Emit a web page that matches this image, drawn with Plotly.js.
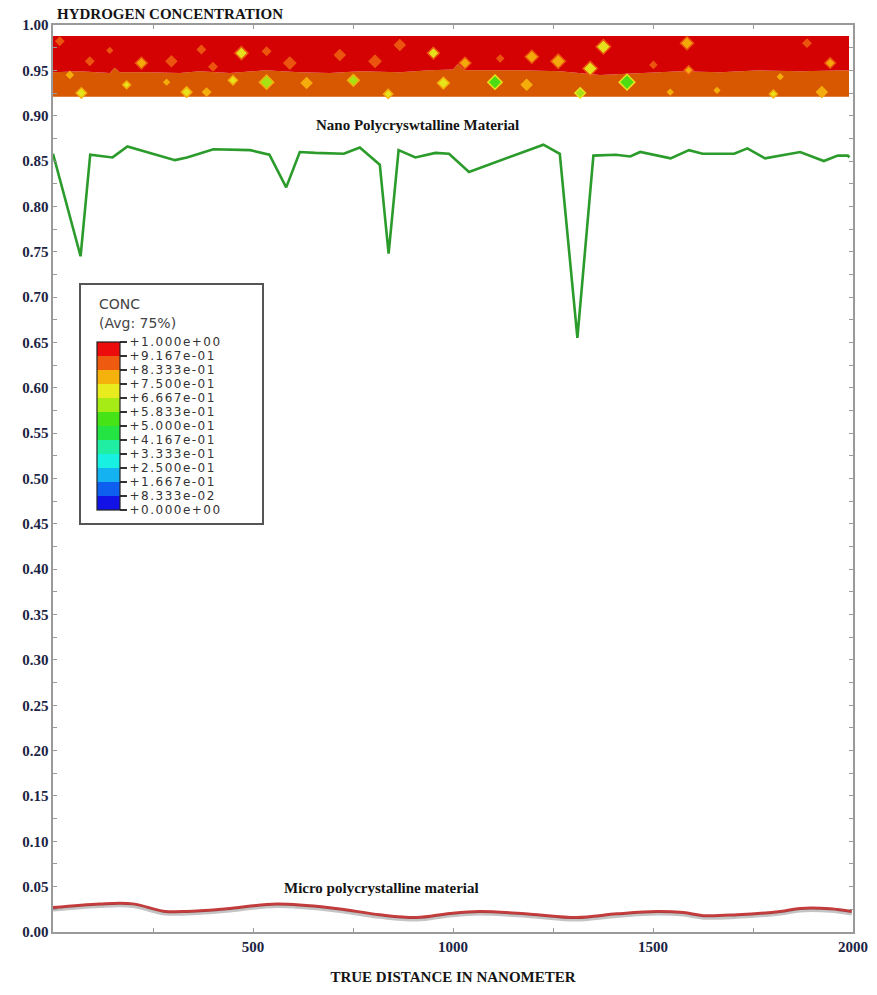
<!DOCTYPE html>
<html>
<head>
<meta charset="utf-8">
<script src="https://cdn.plot.ly/plotly-3.0.1.min.js"></script>
<style>
  html, body { margin: 0; padding: 0; background: #ffffff; }
  #chart { width: 877px; height: 995px; }
  .colorbar text { letter-spacing: 1.5px; }
</style>
</head>
<body>
<div id="chart"></div>
<script>
// Hydrogen concentration along the sample (distance in nm)
const nanoX = [0, 69, 93, 149, 186, 305, 335, 401, 493, 541, 583, 617, 656, 727, 767, 817, 839, 864, 906, 956,
  990, 1040, 1226, 1267, 1311, 1351, 1407, 1443, 1468, 1544, 1590, 1624, 1703, 1736, 1780, 1868, 1927, 1962, 1987, 1991];
const nanoC = [0.858, 0.745, 0.857, 0.854, 0.866, 0.851, 0.854, 0.863, 0.862, 0.857, 0.821, 0.860, 0.859, 0.858, 0.865, 0.846, 0.748, 0.862, 0.854, 0.859,
  0.858, 0.838, 0.868, 0.858, 0.655, 0.856, 0.857, 0.855, 0.860, 0.853, 0.862, 0.858, 0.858, 0.864, 0.853, 0.860, 0.850, 0.856, 0.856, 0.854];

const microX = [0, 117, 200, 275, 334, 434, 559, 701, 817, 909, 992, 1067, 1193, 1309, 1410, 1510, 1576, 1626, 1710, 1818, 1868, 1943, 1997];
const microC = [0.027, 0.031, 0.031, 0.023, 0.0226, 0.0256, 0.0308, 0.0263, 0.019, 0.016, 0.0205, 0.0226, 0.0197, 0.016, 0.020, 0.0226, 0.0214, 0.018, 0.019, 0.0226, 0.026, 0.0256, 0.0226];

// Contour strip of the concentration field (top of the figure)
const bandX = [0, 1990];
const bandTop = [0.988, 0.988];
const bandBottom = [0.921, 0.921];
// front between the saturated layer and the layer beneath it
const frontX = [0, 67, 142, 154, 167, 242, 317, 367, 442, 530, 617, 692, 767, 867, 942, 1000, 1012, 1030, 1168, 1268, 1368, 1468, 1568, 1668, 1768, 1868, 1990];
const frontY = [0.948, 0.949, 0.947, 0.953, 0.948, 0.948, 0.947, 0.949, 0.947, 0.950, 0.948, 0.947, 0.949, 0.948, 0.950, 0.951, 0.957, 0.950, 0.950, 0.949, 0.945, 0.947, 0.949, 0.948, 0.950, 0.949, 0.950];

// local pockets of lower concentration inside the strip
const spotX = [17, 142, 92, 296, 371, 534, 592, 400, 717, 805, 867, 1118, 1501, 1885,
  221, 471, 951, 1030, 1197, 1263, 1376, 1585, 1343, 1589, 1943,
  71, 184, 334, 384, 450, 534, 634, 284, 42, 751, 976, 1105, 1184, 838, 1318, 1435, 1660, 1818, 1922, 1801, 1543];
const spotY = [0.982, 0.972, 0.960, 0.960, 0.973, 0.971, 0.958, 0.954, 0.967, 0.960, 0.978, 0.963, 0.956, 0.980,
  0.958, 0.969, 0.969, 0.958, 0.965, 0.960, 0.976, 0.980, 0.952, 0.950, 0.958,
  0.925, 0.934, 0.926, 0.926, 0.939, 0.937, 0.936, 0.937, 0.945, 0.939, 0.936, 0.937, 0.934, 0.924, 0.925, 0.937, 0.928, 0.943, 0.926, 0.924, 0.926];
const spotCore = [0.875, 0.875, 0.875, 0.875, 0.875, 0.875, 0.875, 0.875, 0.875, 0.875, 0.875, 0.875, 0.875, 0.875,
  0.79, 0.71, 0.71, 0.79, 0.79, 0.79, 0.71, 0.79, 0.71, 0.79, 0.79,
  0.71, 0.71, 0.71, 0.79, 0.71, 0.625, 0.79, 0.79, 0.79, 0.625, 0.71, 0.54, 0.79, 0.71, 0.625, 0.54, 0.79, 0.79, 0.79, 0.71, 0.79];
const spotRim = [0.875, 0.875, 0.875, 0.875, 0.875, 0.875, 0.875, 0.875, 0.875, 0.875, 0.875, 0.875, 0.875, 0.875,
  0.875, 0.875, 0.875, 0.875, 0.875, 0.875, 0.875, 0.875, 0.875, 0.875, 0.875,
  0.79, 0.79, 0.79, 0.79, 0.79, 0.79, 0.79, 0.79, 0.79, 0.79, 0.79, 0.71, 0.79, 0.79, 0.71, 0.71, 0.79, 0.79, 0.79, 0.79, 0.79];
const spotSize = [6, 4, 6, 8, 6, 6, 9, 6, 8, 9, 8, 5, 5, 6,
  9, 10, 9, 9, 10, 11, 11, 10, 11, 7, 8,
  8, 6, 8, 6, 7, 11, 8, 4, 5, 9, 9, 11, 8, 7, 8, 12, 4, 4, 8, 6, 4];

// CONC contour levels and their fill colours (12 bands)
const levelValues = [0, 0.08333, 0.1667, 0.25, 0.3333, 0.4167, 0.5, 0.5833, 0.6667, 0.75, 0.8333, 0.9167, 1.0];
const levelLabels = ['+0.000e+00', '+8.333e-02', '+1.667e-01', '+2.500e-01', '+3.333e-01', '+4.167e-01', '+5.000e-01',
  '+5.833e-01', '+6.667e-01', '+7.500e-01', '+8.333e-01', '+9.167e-01', '+1.000e+00'];
const levelColors = ['#1212e6', '#0e5ef0', '#14b2f0', '#18f0e2', '#20eea2', '#24e444', '#46e416', '#a6ea16',
  '#e8ec1e', '#f6b20c', '#ee5a10', '#ec0c0c'];

const xTickVals = [500, 1000, 1500, 2000];
const xTickText = ['500', '1000', '1500', '2000'];

// stepped colour scale built from the levels
const concScale = [];
for (let i = 0; i < levelColors.length; i++) {
  concScale.push([levelValues[i], levelColors[i]]);
  concScale.push([levelValues[i + 1], levelColors[i]]);
}

const serif = 'Liberation Serif, Times New Roman, serif';
const inkBlue = '#1c2444';

const traces = [
  { x: bandX, y: bandBottom, mode: 'lines', line: { width: 0 }, hoverinfo: 'skip' },
  { x: frontX, y: frontY, mode: 'lines', line: { width: 0 }, fill: 'tonexty', fillcolor: '#d75800', hoverinfo: 'skip' },
  { x: bandX, y: bandTop, mode: 'lines', line: { width: 0 }, fill: 'tonexty', fillcolor: '#d40202', hoverinfo: 'skip' },
  {
    x: spotX, y: spotY, mode: 'markers',
    marker: {
      symbol: 'diamond', size: spotSize, opacity: 0.95,
      color: spotCore, colorscale: concScale, cmin: 0, cmax: 1,
      line: { width: 1.5, color: spotRim, colorscale: concScale, cmin: 0, cmax: 1 },
      showscale: true,
      colorbar: {
        orientation: 'v',
        x: 0.055, xanchor: 'left', xpad: 0,
        y: 0.5579, yanchor: 'middle', ypad: 0,
        len: 168, lenmode: 'pixels', thickness: 23,
        outlinewidth: 1.2, outlinecolor: '#222',
        bgcolor: 'rgba(0,0,0,0)', borderwidth: 0,
        tickmode: 'array', tickvals: levelValues, ticktext: levelLabels,
        ticks: 'outside', ticklen: 7, tickwidth: 1.2, tickcolor: '#333',
        tickfont: { family: 'DejaVu Sans, sans-serif', size: 12, color: '#333' }
      }
    },
    hoverinfo: 'x+y'
  },
  { x: nanoX, y: nanoC, mode: 'lines', line: { color: '#2b9b2b', width: 2.6 } },
  // soft drop shadow under the micro curve (drawn on a slightly offset overlay axis)
  { x: microX, y: microC, yaxis: 'y2', mode: 'lines', line: { color: 'rgba(60,60,60,0.3)', width: 3, shape: 'spline' }, hoverinfo: 'skip' },
  { x: microX, y: microC, mode: 'lines', line: { color: '#c43c3c', width: 3, shape: 'spline' } }
];

const layout = {
  width: 877, height: 995,
  margin: { l: 53, r: 24, t: 25, b: 63 },
  paper_bgcolor: '#ffffff', plot_bgcolor: '#ffffff',
  showlegend: false,
  title: {
    text: '<b>HYDROGEN CONCENTRATION</b>',
    xref: 'container', x: 57 / 877, xanchor: 'left',
    yref: 'container', y: 1 - 14 / 995, yanchor: 'middle',
    font: { family: serif, size: 15, color: '#141414' }
  },
  xaxis: {
    range: [0, 2000], showgrid: false, zeroline: false,
    showline: true, linecolor: '#9a9a9a', linewidth: 1.6, mirror: 'ticks',
    ticks: 'inside', ticklen: 4, tickcolor: '#9a9a9a',
    tickmode: 'array', tickvals: xTickVals, ticktext: xTickText,
    minor: { tick0: 0, dtick: 250, ticks: 'inside', ticklen: 4, tickcolor: '#9a9a9a' },
    tickfont: { family: serif, size: 15, color: inkBlue, weight: 'bold' },
    title: { text: '<b>TRUE DISTANCE IN NANOMETER</b>', standoff: 18,
      font: { family: serif, size: 15, color: '#141414' } }
  },
  yaxis: {
    range: [0, 1], showgrid: false, zeroline: false,
    showline: true, linecolor: '#9a9a9a', linewidth: 1.6, mirror: 'ticks',
    ticks: 'inside', ticklen: 4, tickcolor: '#9a9a9a',
    dtick: 0.05, tick0: 0, tickformat: '.2f',
    minor: { dtick: 0.025, ticks: 'inside', ticklen: 4, tickcolor: '#9a9a9a' },
    tickfont: { family: serif, size: 15, color: inkBlue, weight: 'bold' }
  },
  yaxis2: { overlaying: 'y', range: [0.0028, 1.0028], visible: false },
  shapes: [
    { type: 'rect', xref: 'paper', yref: 'paper', x0: 0.03375, x1: 0.2625, y0: 0.4498, y1: 0.7144,
      line: { color: '#555', width: 2 }, fillcolor: '#ffffff', layer: 'above' }
  ],
  annotations: [
    { text: '<b>Nano Polycryswtalline Material</b>', x: 910, y: 0.890, xref: 'x', yref: 'y',
      showarrow: false, font: { family: serif, size: 15, color: '#141414' } },
    { text: '<b>Micro polycrystalline material</b>', x: 820, y: 0.0485, xref: 'x', yref: 'y',
      showarrow: false, font: { family: serif, size: 15, color: '#141414' } },
    { text: 'CONC', xref: 'paper', yref: 'paper', x: 0.055, xanchor: 'left', y: 0.6923, yanchor: 'middle',
      showarrow: false, font: { family: 'DejaVu Sans, sans-serif', size: 14, color: '#444' } },
    { text: '(Avg: 75%)', xref: 'paper', yref: 'paper', x: 0.055, xanchor: 'left', y: 0.6715, yanchor: 'middle',
      showarrow: false, font: { family: 'DejaVu Sans, sans-serif', size: 14, color: '#444' } }
  ]
};

Plotly.newPlot('chart', traces, layout, { displayModeBar: false, staticPlot: true });
</script>
</body>
</html>
